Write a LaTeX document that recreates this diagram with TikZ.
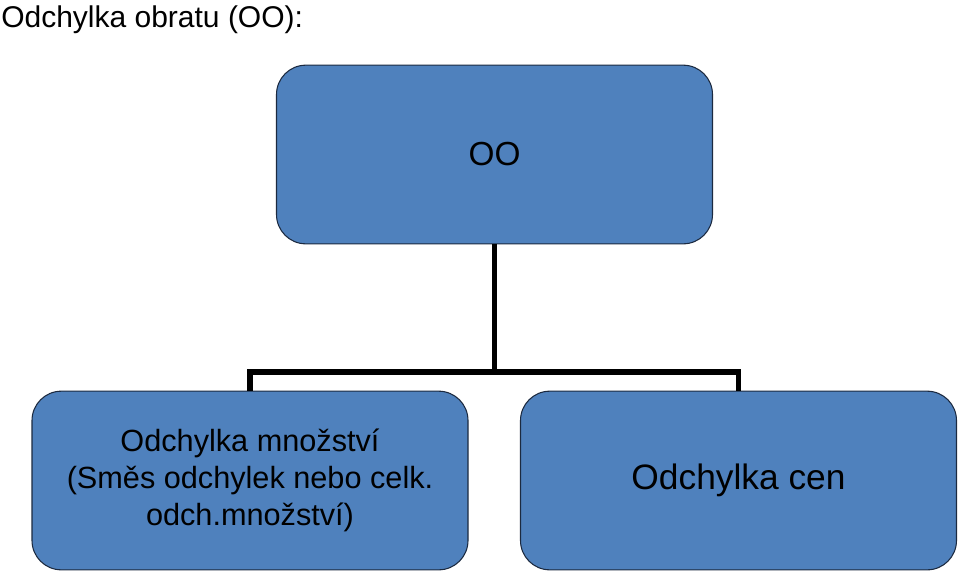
\documentclass[tikz,border=0pt]{standalone}
\usepackage{fontspec}
\setmainfont{Liberation Sans}
\usetikzlibrary{positioning}
\definecolor{boxblue}{HTML}{4F81BD}
\definecolor{boxedge}{HTML}{1C2A40}
\begin{document}
\begin{tikzpicture}[x=0.75pt,y=-0.75pt,
  ovalbox/.style={draw=boxedge,line width=0.8pt,fill=boxblue,rounded corners=22pt,
    minimum width=327pt,minimum height=134pt,align=center,inner sep=0pt},
  conn/.style={line width=3.8pt,line join=miter}]
\useasboundingbox (0,0) rectangle (960,576);
% Title
\node[anchor=base west,inner sep=0pt,font=\fontsize{22.5}{26}\selectfont] (title) at (1,27) {Odchylka obratu (OO):};
% Boxes
\node[ovalbox,font=\fontsize{25}{30}\selectfont] (oo) at (494.5,154.5) {OO};
\node[ovalbox,font=\fontsize{23}{27.5}\selectfont] (mnoz) at (250,480.5)
  {Odchylka množství\\(Směs odchylek nebo celk.\\odch.množství)};
\node[ovalbox,font=\fontsize{26.5}{30}\selectfont] (cen) at (738.5,480.5) {Odchylka cen};
% Connectors
\coordinate (bus) at (494.5,372);
\draw[conn] (oo.south) -- (bus);
\draw[conn] (mnoz.north) |- (bus) -| (cen.north);
\end{tikzpicture}
\end{document}
